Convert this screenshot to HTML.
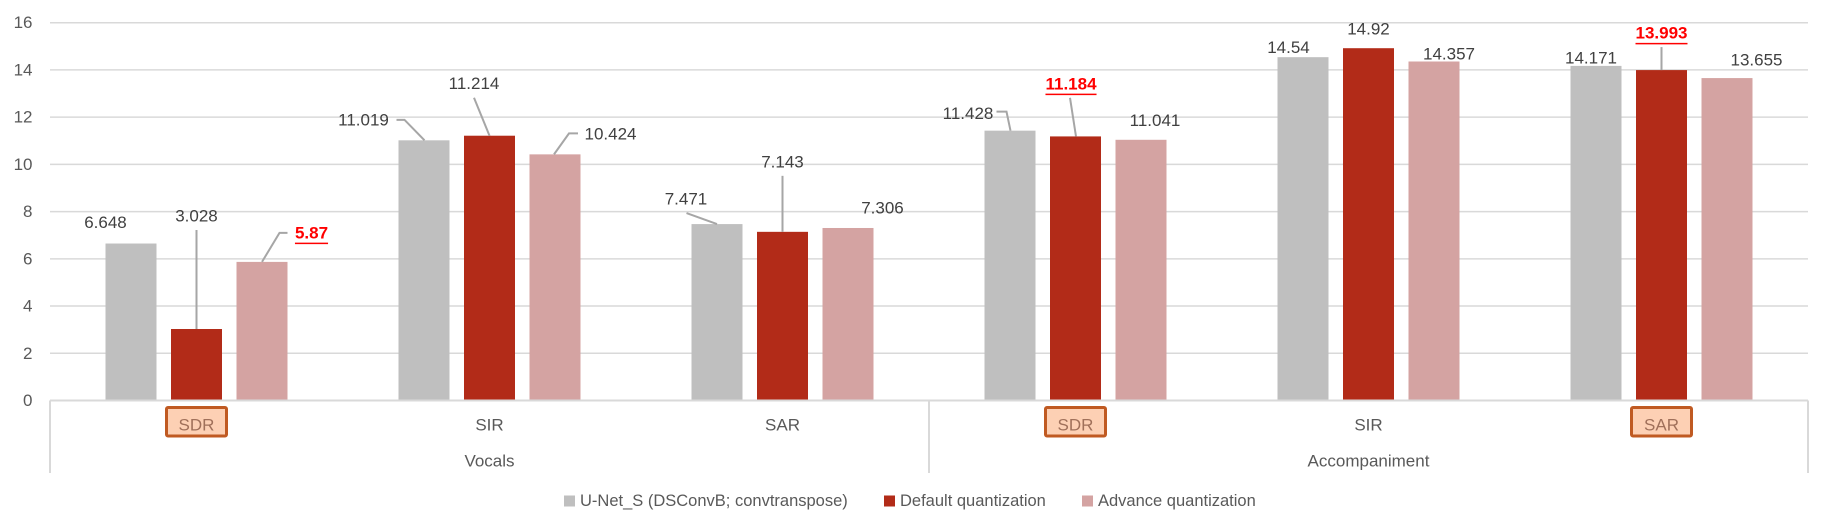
<!DOCTYPE html>
<html><head><meta charset="utf-8">
<style>
html,body{margin:0;padding:0;background:#fff;}
svg{display:block;font-family:"Liberation Sans",sans-serif;}
</style></head>
<body>
<svg id="chart" width="1831" height="531" viewBox="0 0 1831 531" xmlns="http://www.w3.org/2000/svg"></svg>
<script>
const categories = ["SDR","SIR","SAR","SDR","SIR","SAR"];
const groups = ["Vocals","Accompaniment"];
const seriesNames = ["U-Net_S (DSConvB; convtranspose)","Default quantization","Advance quantization"];
const unetValues = [6.648, 11.019, 7.471, 11.428, 14.54, 14.171];
const defaultValues = [3.028, 11.214, 7.143, 11.184, 14.92, 13.993];
const advanceValues = [5.87, 10.424, 7.306, 11.041, 14.357, 13.655];
const yTicks = [0,2,4,6,8,10,12,14,16];
const highlightedLabels = [[0,2],[3,1],[5,1]];
const highlightedCategories = [0,3,5];

const colors = ["#bfbfbf","#b22b18","#d4a3a2"];
const series = [unetValues, defaultValues, advanceValues];
// label offsets (px) relative to top-center of bar, [category][series]
const labelOff = [
 [[-25.5,-21],[0,-113],[49.5,-29]],
 [[-60.5,-20.5],[-15.5,-52],[55.5,-20.5]],
 [[-31,-25],[0,-70],[34.5,-20]],
 [[-42,-17],[-4.5,-52.5],[14,-19.5]],
 [[-14.5,-9.6],[0,-19.4],[15,-7.5]],
 [[-5,-8],[0,-37],[29.5,-18]]
];
const leaders = {
 "0-1":[[0,0],[0,-99]],
 "0-2":[[0,0],[17.5,-29],[25.5,-29]],
 "1-0":[[0.5,0],[-19.5,-20.5],[-27.5,-20.5]],
 "1-1":[[0,0],[-15.5,-38]],
 "1-2":[[-1,0],[14,-21],[23,-21]],
 "2-0":[[0,0],[-30.5,-11]],
 "2-1":[[0,0],[0,-56]],
 "3-0":[[0.5,0],[-3.5,-19],[-13.5,-19]],
 "3-1":[[0.5,0],[-5.5,-38.6]],
 "5-1":[[0,0],[0,-23]]
};

const svg = document.getElementById('chart');
const NS = "http://www.w3.org/2000/svg";
const L = 50, R = 1808, Y0 = 400.5, Y16 = 22.7;
const catW = (R-L)/categories.length;
const barW = 51, barStep = 65.5;
function y(v){ return Y0 - (Y0-Y16)*v/16; }
function cx(i){ return L + catW*(i+0.5); }
function el(tag, attrs, parent){
  const e = document.createElementNS(NS, tag);
  for (const k in attrs) e.setAttribute(k, attrs[k]);
  (parent||svg).appendChild(e);
  return e;
}

// gridlines & ticks
yTicks.forEach(t=>{
  if (t>0){
    const g = el('line',{x1:L,x2:R,y1:y(t),y2:y(t),stroke:'#d9d9d9','stroke-width':1.5});
    
    
  }
  const tx = el('text',{x:32.5,y:y(t),'text-anchor':'end','dominant-baseline':'central','font-size':17,fill:'#595959'});
  tx.textContent = t;
  
  
});

// bars
categories.forEach((c,i)=>{
  series.forEach((s,j)=>{
    const bx = cx(i) + (j-1)*barStep;
    const b = el('rect',{x:bx-barW/2,y:y(s[i]),width:barW,height:Y0-y(s[i]),fill:colors[j]});
    
    
  });
});

// axis lines
const ax = el('line',{x1:L,x2:R,y1:Y0,y2:Y0,stroke:'#d9d9d9','stroke-width':2});


[L, L+catW*3, R].forEach((sx,k)=>{
  const s = el('line',{x1:sx,x2:sx,y1:Y0,y2:473,stroke:'#d9d9d9','stroke-width':2});
  
  
});

// leader lines & labels
categories.forEach((c,i)=>{
  series.forEach((s,j)=>{
    const bx = cx(i) + (j-1)*barStep, by = y(s[i]);
    const key = i+'-'+j;
    if (leaders[key]){
      const pts = leaders[key].map(p=>(bx+p[0])+','+(by+p[1])).join(' ');
      const pl = el('polyline',{points:pts,fill:'none',stroke:'#a6a6a6','stroke-width':2});
      
      
    }
    const hl = highlightedLabels.some(h=>h[0]===i&&h[1]===j);
    const lx = bx+labelOff[i][j][0], ly = by+labelOff[i][j][1];
    const t = el('text',{x:lx,y:ly,'text-anchor':'middle','dominant-baseline':'central','font-size':17,fill:hl?'#ff0000':'#404040','font-weight':hl?'bold':'normal'});
    t.textContent = s[i];
    
    
    if (hl){
      const w = t.getComputedTextLength();
      const u = el('line',{x1:lx-w/2,x2:lx+w/2,y1:ly+10.5,y2:ly+10.5,stroke:'#ff0000','stroke-width':1.5});
      
      
    }
  });
});

// category labels
categories.forEach((c,i)=>{
  if (highlightedCategories.includes(i)){
    const r = el('rect',{x:cx(i)-30,y:407.5,width:60,height:28.5,fill:'#fdd0b4',stroke:'#c05a22','stroke-width':3,rx:1.5});
    
    
  }
  const t = el('text',{x:cx(i),y:425,'text-anchor':'middle','dominant-baseline':'central','font-size':17,fill:highlightedCategories.includes(i)?'#a0705a':'#595959'});
  t.textContent = c;
  
  
});
groups.forEach((g,k)=>{
  const t = el('text',{x:L+catW*(1.5+3*k),y:461,'text-anchor':'middle','dominant-baseline':'central','font-size':17,fill:'#595959'});
  t.textContent = g;
  
  
});

// legend
const legX = [564, 884, 1082];
seriesNames.forEach((n,j)=>{
  const sq = el('rect',{x:legX[j],y:495.5,width:11,height:11,fill:colors[j]});
  
  
  const t = el('text',{x:legX[j]+16,y:501,'dominant-baseline':'central','font-size':16.5,fill:'#595959'});
  t.textContent = n;
  
  
});
</script>
</body></html>
